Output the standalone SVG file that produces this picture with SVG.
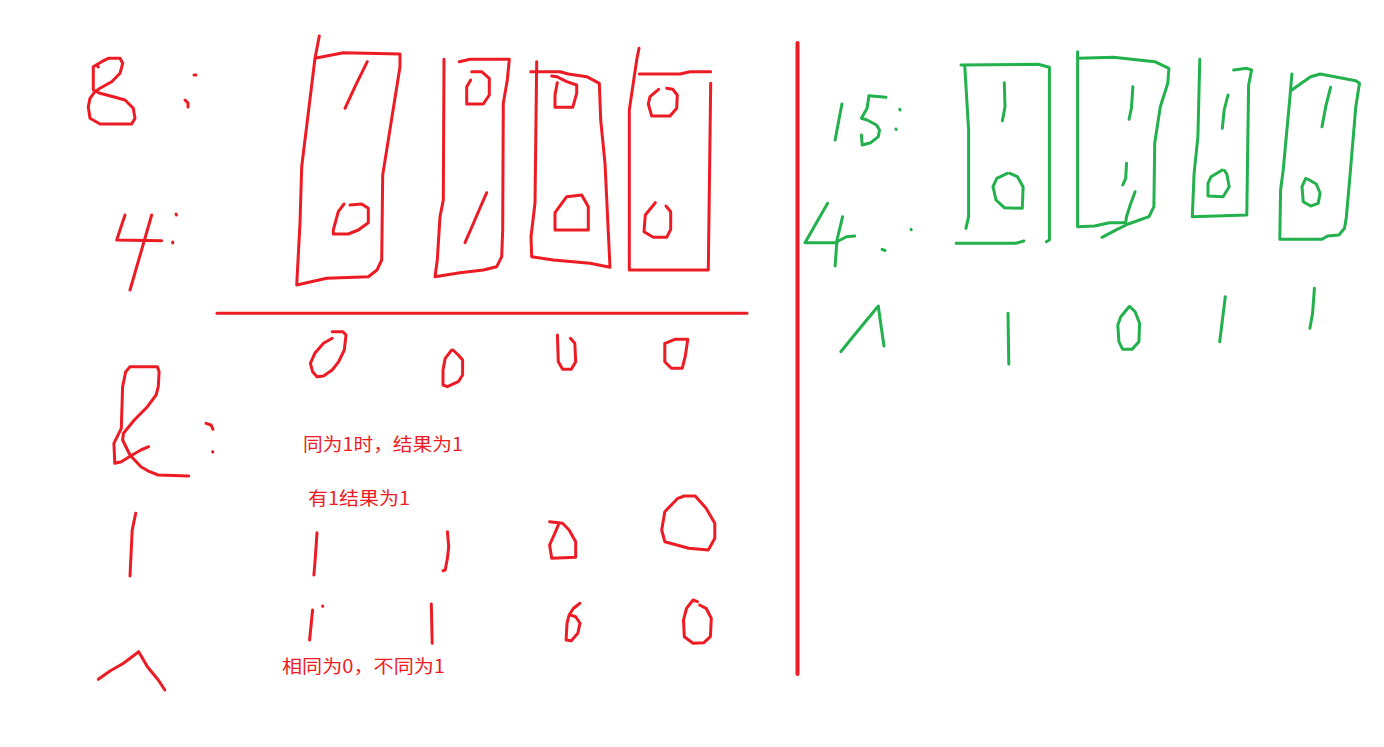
<svg xmlns="http://www.w3.org/2000/svg" width="1384" height="747" viewBox="0 0 1384 747">
<style>
.r{fill:none;stroke:#ed1c24;stroke-width:3;stroke-linecap:round;stroke-linejoin:round}
.g{fill:none;stroke:#22b14c;stroke-width:3;stroke-linecap:round;stroke-linejoin:round}
.t{fill:#ed1c24;font-family:"Microsoft YaHei","Noto Sans CJK SC",sans-serif;font-size:18px}
</style>
<rect width="1384" height="747" fill="#ffffff"/>
<g id="left-labels">
<polyline class="r" points="93.3,90 93.3,66.7 101.7,61.7 108.3,58.3 120,58.3 122.7,63.3 120,73.3 111.7,81.7 100,88.3 95,91.7 90,98.3 88.3,106.7 90,118.3 100,124 131.7,124 135,118.3 133.3,108.3 125,100 113.3,96.7 100,93.3 93.3,90"/>
<polyline class="r" points="96.7,65 98.3,67"/>
<polyline class="r" points="194,75 196,75"/>
<polyline class="r" points="185,100 188,103 188,107"/>
<polyline class="r" points="125,215 116.7,240 161.7,240.7"/>
<polyline class="r" points="151.7,215 130,290"/>
<polyline class="r" points="176,214 176.5,215"/>
<polyline class="r" points="172.7,242 172.7,243"/>
<polyline class="r" points="148.7,446.7 140.9,450 132.2,455 121.3,461.7 114.8,463.3 113.9,443.3 121.3,428.3 122.6,386.7 125.7,371.7 130,366.7 157.4,366.7 159.1,371.7 158.3,386.7 156.1,395 147.4,406.7 134.3,420 123.5,433.3 122.6,440 130,455 140.9,466.7 149.6,471.7 158.3,475 188.7,476"/>
<polyline class="r" points="206,423.3 211,425 213,429.3"/>
<polyline class="r" points="212.6,451.7 212.8,452"/>
<polyline class="r" points="135.7,513.3 132.2,530 130,576"/>
<polyline class="r" points="98.3,679.3 110,671 123.5,663.3 138.7,651.7 147.4,666.7 158.3,680 164.8,690"/>
</g>
<g id="box-1">
<polyline class="r" points="319.3,36 315,58.3 301.7,166.7 300,223 296.7,285 326.7,278.3 368.3,276.7 377,270 381.7,260 382.7,175 400,66.7 400,54 343.3,52.7 315,58.3"/>
<polyline class="r" points="367.3,61.7 355,86.7 345,108.3"/>
<polyline class="r" points="344,204 338.3,211.7 333.3,230 333.3,234 348.3,234 358.3,230 368.3,222.7 368.3,208.3 361.7,204 350,205"/>
</g>
<g id="box-2">
<polyline class="r" points="444,59.3 443.3,200 440,216.7 437.3,260 435,276.7 460,272.7 483.3,270 496.7,266.7 501.7,256.7 502.7,230 503.3,103.3 507.3,80 509.3,59.3 470,59.3 459.3,61.7"/>
<polyline class="r" points="470.7,80 466.7,86.7 466.7,104 483.3,104 489.3,95 489.3,78.3 481.7,71.7 471.7,71.7"/>
<polyline class="r" points="486.7,192.7 480,208 474,222 465,242.7"/>
</g>
<g id="box-3">
<polyline class="r" points="536.7,61.7 535,203.3 531,236.7 531.7,256.7 553.3,260 590,263.3 610,267.3 605,163.3 600.7,120 599.3,83.3 586.7,76.7 568.3,74 560,71.7 530.7,71.7"/>
<polyline class="r" points="551.7,76 556.7,76.7 566.7,81.7 576.7,85 576.7,93.3 572.7,107.3 555,107.3 555,95 557.3,82.7"/>
<polyline class="r" points="555,230 555,212.7 566.7,196.7 581.7,195 588.3,206.7 588.3,230 555,230"/>
</g>
<g id="box-4">
<polyline class="r" points="639,48.3 636.7,60 629.3,110 629.3,270 708.3,270 710.7,83.3"/>
<polyline class="r" points="639.3,74 680,74 690,71.7 710.7,71.7"/>
<polyline class="r" points="658.7,89.3 650,96.7 648.3,104 651.7,116 670,116 676.7,108.3 677.3,95 672.7,89.3 666.7,88.3"/>
<polyline class="r" points="655.3,202.7 645.3,215 644,231.7 653.3,237.3 666.7,237.3 670.7,229.3 670.7,211.7 666,206"/>
</g>
<g id="result-row">
<line class="r" x1="217" y1="313.3" x2="747" y2="313.3"/>
<polyline class="r" points="332.2,331.7 343,331.7 346,335 344.3,350 338.7,361.7 332.2,370 323.5,376 317,376.7 312.6,371.7 310.4,363.3 314.8,353.3 323.5,343.3 332.2,338.3"/>
<polyline class="r" points="451.7,350 445.2,358.3 443,370 443,385 447.4,386.7 458.3,381.7 462.6,375 462.6,360 458.3,355 453,350"/>
<polyline class="r" points="557.4,335 558.3,361.7 562.6,369.3 571.3,369.3 575.7,361.7 574.8,343.3 570.4,338.3"/>
<polyline class="r" points="664.8,343.3 664.8,361.7 671.3,368.3 682.2,368.3 685.2,356.7 687.8,339.3 674.8,339.3 667,342.7"/>
</g>
<g id="or-row">
<polyline class="r" points="317,532.7 315.5,555 313.9,575"/>
<polyline class="r" points="447.4,531.7 448.7,546.7 447.4,558.3 445.2,570 443,570.7"/>
<polyline class="r" points="549.6,521.7 562.6,523.3 569.1,530 575.7,541.7 575.7,557.3 551.7,558.3 549.6,545 554.8,533.3 558.3,525"/>
<polyline class="r" points="684.3,496 695.2,496 706.1,508.3 714.8,523.3 714.8,538.3 708.3,550 688.7,548.3 664.8,541.7 661.7,530 664.8,511.7 677.8,498.3 684.3,496"/>
</g>
<g id="xor-row">
<polyline class="r" points="312.6,610 309.6,640"/>
<polyline class="r" points="322.6,606 322.8,606.3"/>
<polyline class="r" points="431.3,604 432.2,643.3"/>
<polyline class="r" points="580,603.3 573.5,608.3 569.1,615 567,623.3 566.1,640 571.3,640.7 577.8,633.3 580,623.3 575.7,616.7 570.4,615"/>
<polyline class="r" points="697.4,601.7 693,600 686.5,608.3 683.5,620 684.3,636.7 693,643.3 703.9,642.7 710.4,636.7 711.3,618.3 706.1,608.3 699.6,605"/>
</g>
<g id="texts">
<text class="t" x="303" y="451" textLength="160" lengthAdjust="spacingAndGlyphs">同为1时，结果为1</text>
<text class="t" x="308" y="505" textLength="102" lengthAdjust="spacingAndGlyphs">有1结果为1</text>
<text class="t" x="282" y="673" textLength="163" lengthAdjust="spacingAndGlyphs">相同为0，不同为1</text>
</g>
<g id="divider">
<line x1="797.5" y1="43" x2="797.5" y2="674" stroke="#ed1c24" stroke-width="4" stroke-linecap="round"/>
</g>
<g id="right-labels">
<polyline class="g" points="841.9,104 835.1,140"/>
<polyline class="g" points="885.9,97.3 868.9,95.7 867.1,108.3 861.4,118.3 867.1,120 876.5,125 879.5,130 878.3,136.7 870.8,142.7 862.2,145 861.4,135"/>
<polyline class="g" points="899.8,109.3 900,110"/>
<polyline class="g" points="896,129 896.2,129.5"/>
<polyline class="g" points="827.6,203.3 805,242.7 835.1,242.7 846.4,236.7 854.7,236"/>
<polyline class="g" points="842.6,216.7 837,240 835.1,266"/>
<polyline class="g" points="911,229.3 911.2,229.8"/>
<polyline class="g" points="882.1,249.3 885,250.5"/>
</g>
<g id="green-box-1">
<polyline class="g" points="961,65 1038.1,64.3 1049.4,67.3 1049.4,240 1046.4,241.7"/>
<polyline class="g" points="964.8,66.7 968.6,130 968.6,216.7 965.9,228.3"/>
<polyline class="g" points="956.2,243.3 1015.6,243.3 1023.8,241"/>
<polyline class="g" points="1004.3,82.7 1005,106.7 1002.4,120.7"/>
<polyline class="g" points="1007.3,173.3 996.8,178.3 993,186.7 996,200 1004.3,207.7 1022.3,208.3 1023.1,186.7 1017.4,176.7 1009.9,173.3"/>
</g>
<g id="green-box-2">
<polyline class="g" points="1077.6,51.7 1077.6,226.7 1094.5,226 1109.5,222.7 1125.7,222.7"/>
<polyline class="g" points="1078.7,58.3 1113.3,57.3 1154.7,61.7 1168.9,68.3 1167.8,83.3 1160.3,106.7 1154.7,143.3 1153.9,206.7 1149,216.7 1128.3,224 1117.1,229.3 1102,237.3"/>
<polyline class="g" points="1132.9,86.7 1131.4,108.3 1129.1,119.3"/>
<polyline class="g" points="1126.5,163.3 1125.7,178.3 1122.7,185"/>
<polyline class="g" points="1135.1,191.7 1130.2,205 1126.5,216.7 1125.7,222.7"/>
</g>
<g id="green-box-3">
<polyline class="g" points="1199.8,59.3 1197.9,136.7 1194.1,173.3 1192.3,216.7 1246.8,215 1248.6,85 1251.6,70 1246.8,68.3 1233.6,70"/>
<polyline class="g" points="1228,95 1224.2,110 1222.3,128.3"/>
<polyline class="g" points="1222.3,170 1211.1,176.7 1208,183.3 1208,196 1223.1,196.7 1229.2,186.7 1226.8,174 1224.5,170.7"/>
</g>
<g id="green-box-4">
<polyline class="g" points="1291.9,74 1290,96.7 1283.2,170 1280.6,190 1279.8,239.3 1322,239.3 1327.6,236 1338.9,235 1344.5,228.3 1346.4,216.7 1350.2,173.3 1355.8,106.7 1359.5,83.3 1355.8,80.7 1320.1,74 1310.7,76.7 1301.3,83.3 1291.9,90"/>
<polyline class="g" points="1330.6,87.3 1325.7,106.7 1322,126.7"/>
<polyline class="g" points="1305.8,178.3 1302,186.7 1303.2,201.7 1310.7,206 1318.2,203.3 1320.1,193.3 1316.3,184 1308,179.3"/>
</g>
<g id="green-result">
<polyline class="g" points="840.8,351.7 855.8,333.3 878.3,306 880.2,320 884,346"/>
<polyline class="g" points="1008,313.3 1008.8,364"/>
<polyline class="g" points="1129.1,306.7 1120.8,316.7 1117.8,325 1118.9,341.7 1122.7,349.3 1132.1,349.3 1138.9,341.7 1139.6,323.3 1135.1,311.7 1130,306.7"/>
<polyline class="g" points="1225.3,296.7 1219.7,341.7"/>
<polyline class="g" points="1314.4,288.3 1312.6,313.3 1309.9,328.3"/>
</g>
</svg>
